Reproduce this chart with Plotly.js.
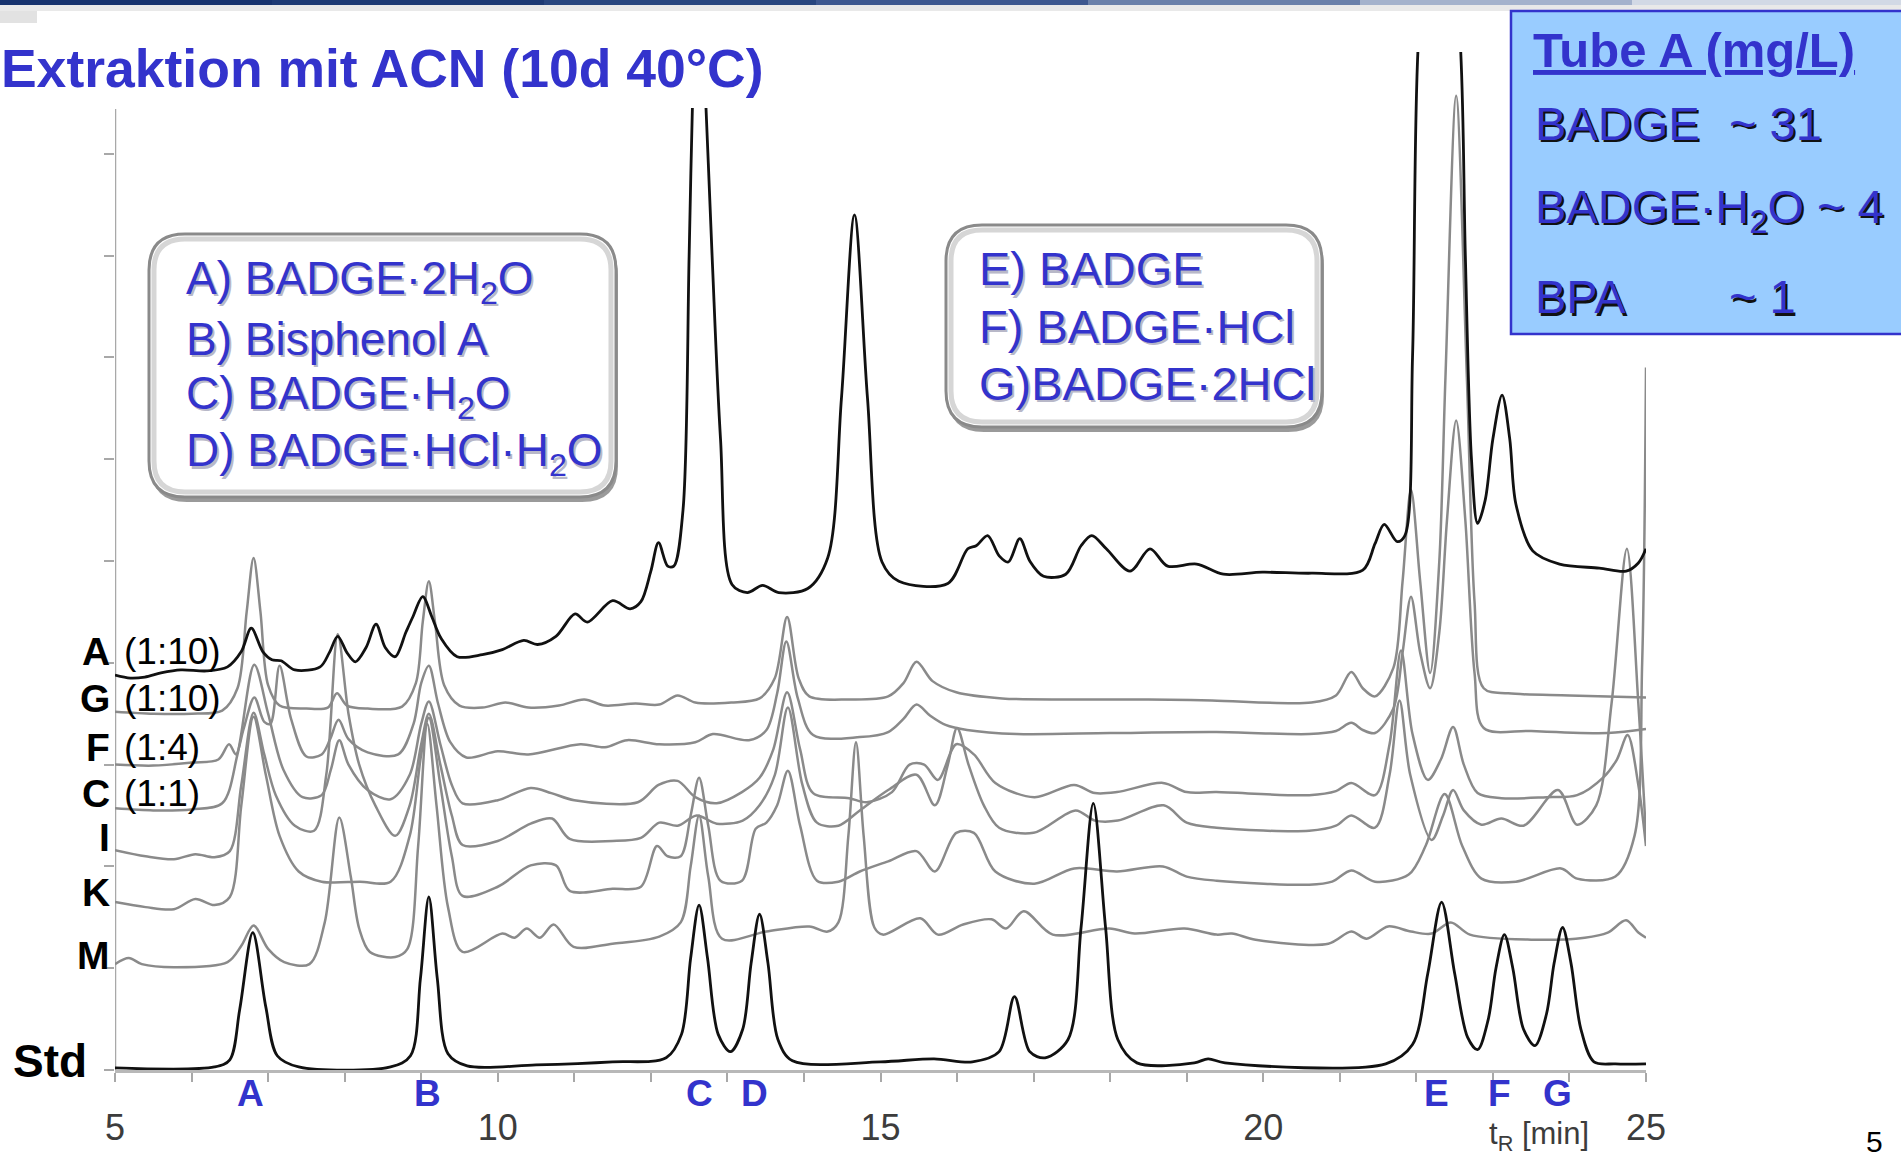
<!DOCTYPE html>
<html><head><meta charset="utf-8">
<script src="https://cdn.plot.ly/plotly-3.0.1.min.js"></script>
<style>html,body{margin:0;padding:0;background:#fff;overflow:hidden}#chart{width:1901px;height:1157px}</style>
</head><body><div id="chart"></div>
<script>
// ---------- data ----------
const xTickVals = [5, 10, 15, 20, 25];
const yTickVals = [0, 1, 2, 3, 4, 5, 6, 7, 8, 9];
const sampleLetters = ['A', 'G', 'F', 'C', 'I', 'K', 'M'];
const sampleRatios = ['(1:10)', '(1:10)', '(1:4)', '(1:1)', '', '', ''];
const peakLetters = ['A', 'B', 'C', 'D', 'E', 'F', 'G'];
const peakTimes = [6.77, 9.08, 12.64, 13.36, 22.26, 23.09, 23.84];
const compoundsLeft = ['A) BADGE·2H<sub>2</sub>O', 'B) Bisphenol A', 'C) BADGE·H<sub>2</sub>O', 'D) BADGE·HCl·H<sub>2</sub>O'];
const compoundsRight = ['E) BADGE', 'F) BADGE·HCl', 'G)BADGE·2HCl'];
const tubeTitle = 'Tube A (mg/L)';
const tubeNames = ['BADGE', 'BADGE·H<sub>2</sub>O ~ 4', 'BPA'];
const tubeValues = ['~ 31', '', '~ 1'];

// chromatograms: [t_R (min), signal (offset units)]
const stdPts = [[5.00,0.02],[6.30,0.03],[6.50,0.10],[6.63,0.60],[6.80,1.35],[6.97,0.62],[7.12,0.14],[7.40,0.03],
[8.60,0.03],[8.86,0.14],[8.99,0.90],[9.10,1.70],[9.21,0.90],[9.35,0.16],[9.60,0.04],
[10.50,0.05],[11.50,0.08],[12.20,0.12],[12.40,0.35],[12.52,1.10],[12.63,1.62],[12.74,1.10],[12.88,0.35],[13.04,0.18],[13.20,0.40],[13.31,1.05],[13.42,1.53],[13.53,1.05],[13.66,0.30],[13.85,0.09],
[15.00,0.08],[15.70,0.11],[16.20,0.08],[16.55,0.18],[16.75,0.72],[16.95,0.18],[17.15,0.12],[17.45,0.30],[17.62,1.40],[17.78,2.62],[17.94,1.40],[18.10,0.30],[18.35,0.07],
[19.10,0.07],[19.28,0.11],[19.50,0.07],[21.60,0.06],[21.95,0.25],[22.15,0.95],[22.33,1.65],[22.50,0.95],[22.67,0.32],[22.80,0.20],[22.94,0.50],[23.04,1.00],[23.15,1.33],[23.26,1.00],[23.40,0.40],[23.55,0.24],[23.70,0.55],[23.80,1.05],[23.91,1.40],[24.02,1.05],[24.15,0.40],[24.32,0.08],[24.60,0.06],[25.00,0.06]];

const aPts = [[5.00,3.88],[5.20,3.85],[5.39,3.86],[5.60,3.90],[5.86,3.93],[6.20,3.92],[6.47,3.96],[6.65,4.11],[6.78,4.34],[6.93,4.11],[7.05,4.03],[7.17,4.02],[7.35,3.93],[7.68,3.96],[7.80,4.10],[7.91,4.26],[8.03,4.10],[8.14,4.01],[8.28,4.15],[8.41,4.38],[8.53,4.15],[8.66,4.06],[8.80,4.30],[8.89,4.45],[9.02,4.65],[9.14,4.45],[9.26,4.24],[9.47,4.06],[9.80,4.08],[10.06,4.13],[10.34,4.22],[10.52,4.18],[10.76,4.26],[11.01,4.48],[11.17,4.40],[11.50,4.61],[11.73,4.53],[11.87,4.60],[12.00,4.90],[12.10,5.18],[12.22,4.95],[12.30,4.95],[12.42,5.50],[12.50,8.00],[12.56,10.0],[12.62,11.0],[12.69,10.0],[12.80,8.00],[12.91,6.20],[13.06,4.77],[13.26,4.69],[13.46,4.76],[13.67,4.69],[14.05,4.73],[14.31,5.03],[14.49,6.60],[14.66,8.40],[14.83,6.60],[15.02,4.99],[15.24,4.80],[15.88,4.78],[16.14,5.12],[16.25,5.15],[16.40,5.25],[16.55,5.05],[16.67,4.99],[16.82,5.22],[16.95,5.00],[17.13,4.85],[17.42,4.87],[17.62,5.15],[17.76,5.25],[17.95,5.12],[18.26,4.90],[18.52,5.12],[18.75,4.95],[19.13,4.97],[19.48,4.87],[19.99,4.89],[20.63,4.88],[21.30,4.91],[21.46,5.17],[21.58,5.36],[21.75,5.19],[21.85,5.25],[21.95,7.00],[22.02,10.0],[22.30,13.0],[22.58,10.0],[22.64,8.00],[22.72,6.00],[22.80,5.37],[22.90,5.60],[23.00,6.20],[23.12,6.63],[23.22,6.20],[23.30,5.56],[23.52,5.10],[23.87,4.97],[24.39,4.93],[24.74,4.90],[24.90,4.98],[25.00,5.12]];

const gPts = [[5.00,3.52],[5.50,3.50],[6.00,3.50],[6.40,3.53],[6.60,3.75],[6.72,4.50],[6.81,5.03],[6.90,4.50],[7.00,3.78],[7.15,3.58],[7.50,3.55],[7.78,3.56],[7.90,3.70],[8.03,3.58],[8.30,3.55],[8.75,3.57],[8.93,3.80],[9.02,4.40],[9.10,4.80],[9.18,4.40],[9.30,3.78],[9.50,3.58],[9.80,3.56],[10.10,3.61],[10.40,3.56],[10.80,3.58],[11.13,3.64],[11.40,3.58],[11.80,3.60],[12.11,3.59],[12.35,3.68],[12.58,3.61],[13.05,3.61],[13.42,3.65],[13.62,3.85],[13.78,4.45],[13.93,3.85],[14.07,3.67],[14.59,3.64],[15.10,3.67],[15.30,3.80],[15.47,4.01],[15.68,3.82],[15.99,3.71],[16.59,3.65],[17.50,3.64],[18.50,3.64],[19.33,3.63],[20.63,3.61],[20.95,3.68],[21.15,3.91],[21.30,3.75],[21.46,3.67],[21.70,3.95],[21.82,4.80],[21.93,5.70],[22.05,4.80],[22.18,3.90],[22.30,5.00],[22.38,6.80],[22.52,9.57],[22.66,6.80],[22.76,4.60],[22.88,3.75],[23.20,3.70],[24.00,3.68],[25.00,3.66]];

const fPts = [[5.00,3.00],[5.50,2.99],[6.00,3.02],[6.35,3.05],[6.49,3.20],[6.58,3.10],[6.68,3.35],[6.82,3.66],[6.95,3.42],[7.03,3.40],[7.15,3.97],[7.30,3.45],[7.50,3.08],[7.70,3.10],[7.81,3.25],[7.92,3.44],[8.05,3.25],[8.30,3.12],[8.70,3.10],[8.90,3.40],[9.00,3.80],[9.10,3.97],[9.22,3.60],[9.38,3.22],[9.59,3.07],[10.00,3.13],[10.40,3.10],[11.08,3.20],[11.40,3.17],[11.69,3.24],[12.11,3.20],[12.58,3.22],[12.81,3.30],[13.28,3.24],[13.51,3.34],[13.65,3.70],[13.77,4.21],[13.92,3.65],[14.12,3.29],[14.73,3.27],[15.10,3.32],[15.30,3.45],[15.47,3.59],[15.65,3.48],[15.85,3.39],[16.13,3.34],[16.78,3.30],[18.00,3.31],[19.39,3.32],[20.60,3.30],[20.95,3.33],[21.15,3.41],[21.30,3.34],[21.46,3.31],[21.70,3.55],[21.82,4.10],[21.93,4.65],[22.05,4.10],[22.18,3.75],[22.30,4.30],[22.40,5.40],[22.52,6.38],[22.64,5.40],[22.76,3.90],[22.88,3.36],[23.50,3.33],[24.50,3.31],[25.00,3.35]];

const cPts = [[5.00,2.57],[5.50,2.55],[6.00,2.56],[6.40,2.62],[6.60,3.10],[6.82,3.98],[7.00,3.50],[7.20,2.95],[7.45,2.68],[7.70,2.70],[7.82,2.95],[7.93,3.24],[8.05,3.00],[8.30,2.75],[8.60,2.66],[8.85,2.90],[9.00,3.40],[9.10,3.62],[9.25,3.20],[9.40,2.80],[9.54,2.62],[10.00,2.65],[10.43,2.77],[10.70,2.72],[11.00,2.65],[11.83,2.63],[12.10,2.80],[12.35,2.84],[12.58,2.68],[12.86,2.62],[13.19,2.73],[13.42,2.87],[13.60,3.15],[13.78,3.71],[13.95,3.15],[14.12,2.72],[14.59,2.67],[14.82,2.63],[15.15,2.73],[15.38,3.00],[15.57,3.00],[15.75,2.85],[15.99,3.20],[16.22,3.10],[16.50,2.82],[17.01,2.68],[17.53,2.80],[17.80,2.72],[18.09,2.73],[18.69,2.82],[19.00,2.73],[19.39,2.73],[20.60,2.70],[20.95,2.74],[21.15,2.82],[21.46,2.70],[21.65,3.20],[21.80,4.12],[21.95,3.30],[22.15,2.85],[22.32,3.05],[22.48,3.37],[22.62,3.00],[22.80,2.72],[23.11,2.67],[23.70,2.68],[24.10,2.70],[24.45,2.88],[24.62,3.05],[24.76,3.29],[24.90,2.80],[25.00,2.20]];

const iPts = [[5.00,2.16],[5.40,2.10],[5.77,2.07],[6.05,2.12],[6.30,2.09],[6.50,2.15],[6.65,2.80],[6.81,3.51],[6.95,3.10],[7.10,2.70],[7.35,2.40],[7.60,2.35],[7.76,2.90],[7.91,4.28],[8.05,3.50],[8.19,3.00],[8.40,2.60],[8.66,2.30],[8.85,2.60],[9.00,3.20],[9.10,3.50],[9.25,3.00],[9.40,2.50],[9.54,2.21],[10.00,2.25],[10.43,2.42],[10.71,2.47],[10.94,2.27],[11.50,2.25],[11.87,2.28],[12.11,2.43],[12.35,2.40],[12.60,2.50],[12.86,2.42],[13.20,2.45],[13.42,2.60],[13.62,2.90],[13.79,3.56],[13.98,2.80],[14.17,2.43],[14.45,2.40],[14.73,2.55],[15.10,2.75],[15.47,2.90],[15.71,2.60],[15.88,3.00],[16.00,3.36],[16.15,3.00],[16.35,2.60],[16.55,2.38],[17.00,2.33],[17.55,2.55],[17.80,2.45],[18.10,2.45],[18.70,2.60],[19.00,2.43],[19.39,2.38],[20.60,2.35],[20.95,2.40],[21.15,2.50],[21.46,2.38],[21.65,2.90],[21.78,3.63],[21.92,2.90],[22.20,2.26],[22.35,2.50],[22.48,2.75],[22.62,2.55],[22.85,2.41],[23.11,2.47],[23.40,2.40],[23.85,2.75],[24.10,2.41],[24.35,2.60],[24.55,3.60],[24.75,5.12],[24.90,3.60],[25.00,2.30]];

const kPts = [[5.00,1.65],[5.40,1.60],[5.77,1.58],[6.05,1.68],[6.30,1.62],[6.50,1.70],[6.65,2.60],[6.81,3.47],[6.97,2.90],[7.15,2.30],[7.40,1.95],[7.70,1.85],[8.20,1.85],[8.60,1.85],[8.85,2.30],[9.00,3.10],[9.10,3.46],[9.25,2.80],[9.40,2.10],[9.54,1.71],[10.00,1.80],[10.43,2.01],[10.76,2.01],[10.94,1.76],[11.50,1.78],[11.87,1.80],[12.08,2.20],[12.22,2.10],[12.39,2.10],[12.52,2.50],[12.63,2.87],[12.75,2.40],[12.91,1.86],[13.19,1.86],[13.37,2.37],[13.51,2.43],[13.65,2.60],[13.79,2.94],[13.95,2.40],[14.17,1.86],[14.45,1.85],[14.73,1.95],[15.10,2.05],[15.47,2.15],[15.71,1.95],[15.99,2.33],[16.22,2.33],[16.50,1.95],[17.01,1.83],[17.53,1.98],[18.09,1.95],[18.69,2.00],[19.00,1.90],[19.39,1.86],[20.60,1.82],[20.90,1.85],[21.15,1.96],[21.46,1.85],[21.90,1.92],[22.12,2.20],[22.37,2.71],[22.60,2.20],[22.85,1.88],[23.30,1.85],[23.89,1.98],[24.10,1.88],[24.60,1.90],[24.85,2.30],[24.95,4.00],[25.00,6.90]];

const mPts = [[5.00,1.04],[5.18,1.10],[5.35,1.04],[5.77,1.01],[6.47,1.06],[6.65,1.22],[6.81,1.42],[7.00,1.19],[7.21,1.06],[7.54,1.04],[7.74,1.45],[7.93,2.48],[8.08,1.90],[8.19,1.39],[8.33,1.16],[8.66,1.11],[8.82,1.19],[8.96,2.20],[9.08,3.40],[9.20,2.60],[9.35,1.60],[9.54,1.16],[10.06,1.34],[10.22,1.30],[10.38,1.39],[10.55,1.30],[10.73,1.43],[10.99,1.21],[11.50,1.24],[12.11,1.31],[12.39,1.45],[12.52,2.00],[12.63,2.50],[12.75,1.90],[12.93,1.29],[13.51,1.36],[14.07,1.41],[14.31,1.36],[14.45,1.45],[14.58,2.30],[14.68,3.22],[14.78,2.30],[14.92,1.40],[15.03,1.33],[15.52,1.49],[15.75,1.33],[16.08,1.43],[16.45,1.48],[16.64,1.39],[16.87,1.56],[17.25,1.33],[17.99,1.39],[18.32,1.34],[18.97,1.39],[19.39,1.33],[19.59,1.34],[19.90,1.28],[20.85,1.24],[21.15,1.36],[21.35,1.29],[21.63,1.41],[21.93,1.36],[22.20,1.34],[22.45,1.45],[22.70,1.33],[23.50,1.28],[24.20,1.30],[24.50,1.35],[24.74,1.47],[24.90,1.35],[25.00,1.30]];

// ---------- layout helpers ----------
const W = 1901, H = 1157, ML = 115, MR = 255, MT = 52, MB = 87;
const PW = W - ML - MR, PH = H - MT - MB;
const px = X => (X - ML) / PW;
const py = Y => (H - MB - Y) / PH;

const BLUE = '#3333cc';
const SANS = "'Liberation Sans', Arial, sans-serif";

function rr(x0, y0, x1, y1, r) {
  const P = (X, Y) => px(X).toFixed(5) + ',' + py(Y).toFixed(5);
  return 'M' + P(x0 + r, y0) + ' L' + P(x1 - r, y0) + ' Q' + P(x1, y0) + ' ' + P(x1, y0 + r) +
    ' L' + P(x1, y1 - r) + ' Q' + P(x1, y1) + ' ' + P(x1 - r, y1) +
    ' L' + P(x0 + r, y1) + ' Q' + P(x0, y1) + ' ' + P(x0, y1 - r) +
    ' L' + P(x0, y0 + r) + ' Q' + P(x0, y0) + ' ' + P(x0 + r, y0) + ' Z';
}
function rect(X0, Y0, X1, Y1, fill, line) {
  return {type: 'rect', xref: 'paper', yref: 'paper', x0: px(X0), x1: px(X1), y0: py(Y1), y1: py(Y0),
    fillcolor: fill, line: line || {width: 0}, layer: 'above'};
}
function ann(text, X, Y, opts) {
  return Object.assign({text: text, xref: 'paper', yref: 'paper', x: px(X), y: py(Y), showarrow: false,
    xanchor: 'left', yanchor: 'middle'}, opts || {});
}

// ---------- traces ----------
function tr(pts, color, width) {
  return {x: pts.map(p => p[0]), y: pts.map(p => p[1]), type: 'scatter', mode: 'lines',
    line: {color: color, width: width, shape: 'spline', smoothing: 0.9}, hoverinfo: 'skip', showlegend: false};
}
const GRAY = '#8a8a8a';
const data = [
  tr(mPts, GRAY, 2.5), tr(kPts, GRAY, 2.5), tr(iPts, GRAY, 2.5), tr(cPts, GRAY, 2.5),
  tr(fPts, GRAY, 2.5), tr(gPts, GRAY, 2.5),
  tr(aPts, '#111111', 2.8), tr(stdPts, '#111111', 2.8)
];

// ---------- shapes ----------
const shapes = [];
shapes.push({type: 'line', xref: 'x', yref: 'y', x0: 5, x1: 5, y0: 0, y1: 9.44, line: {color: '#a8a8a8', width: 2.5}, layer: 'below'});
shapes.push(rect(-5, -5, 814, 108, '#ffffff'));
const barCols = ['#17336e', '#1d3a74', '#28467f', '#3d5890', '#6a80aa', '#a4b2cc', '#d2d9e5'];
barCols.forEach((c, i) => shapes.push(rect(i * 272, 0, (i + 1) * 272 + 1, 5, c)));
shapes.push(rect(0, 5, W, 11, '#e9e9e9'));
shapes.push(rect(0, 11, 37, 23, '#e2e2e2'));
function box(x0, y0, x1, y1) {
  shapes.push({type: 'path', xref: 'paper', yref: 'paper', path: rr(x0 + 2, y0 + 5, x1 + 2, y1 + 5, 36), fillcolor: '#9a9a9a', line: {width: 0}, layer: 'above'});
  shapes.push({type: 'path', xref: 'paper', yref: 'paper', path: rr(x0, y0, x1, y1, 36), fillcolor: '#ffffff', line: {color: '#8a8a8a', width: 3}, layer: 'above'});
  shapes.push({type: 'path', xref: 'paper', yref: 'paper', path: rr(x0 + 5, y0 + 5, x1 - 5, y1 - 5, 31), fillcolor: 'rgba(0,0,0,0)', line: {color: '#d6d6d6', width: 5}, layer: 'above'});
}
box(149, 234, 616, 497);
box(946, 225, 1322, 427);
shapes.push(rect(1511, 11, 1910, 334, '#99ccff', {color: BLUE, width: 2.5}));

// ---------- annotations ----------
const annotations = [];
const sampleY = [651, 698, 747, 793, 837, 892, 955];
sampleLetters.forEach((s, i) => {
  annotations.push(ann('<b>' + s + '</b>', 112, sampleY[i], {xanchor: 'right', font: {family: SANS, size: 39, color: '#000'}}));
  if (sampleRatios[i]) annotations.push(ann(sampleRatios[i], 122, sampleY[i], {font: {family: SANS, size: 37, color: '#000'}}));
});
annotations.push(ann('<b>Std</b>', 11, 1061, {font: {family: SANS, size: 46, color: '#000'}}));
peakLetters.forEach((p, i) => {
  annotations.push({text: '<b>' + p + '</b>', xref: 'x', yref: 'paper', x: peakTimes[i], y: py(1093), showarrow: false,
    xanchor: 'center', yanchor: 'middle', font: {family: SANS, size: 37, color: BLUE}});
});
annotations.push(ann('t<sub>R</sub> [min]', 1487, 1136, {font: {family: SANS, size: 31, color: '#3c3c3c'}}));
annotations.push(ann('5', 1864, 1141, {font: {family: SANS, size: 30, color: '#000'}}));
const leftY = [281, 339, 397, 454];
compoundsLeft.forEach((t, i) => {
  annotations.push(ann(t, 186, leftY[i] + 2, {font: {family: SANS, size: 46, color: '#b8b8c8'}}));
  annotations.push(ann(t, 184, leftY[i], {font: {family: SANS, size: 46, color: BLUE}}));
});
const rightY = [269, 326, 383];
compoundsRight.forEach((t, i) => {
  annotations.push(ann(t, 979, rightY[i] + 2, {font: {family: SANS, size: 47, color: '#b8b8c8'}}));
  annotations.push(ann(t, 977, rightY[i], {font: {family: SANS, size: 47, color: BLUE}}));
});
annotations.push(ann('<b><u>' + tubeTitle + '</u></b>', 1531, 50, {font: {family: SANS, size: 49, color: BLUE}}));
const tubeY = [123, 210, 297];
tubeNames.forEach((t, i) => {
  annotations.push(ann(t, 1535, tubeY[i] + 2, {font: {family: SANS, size: 47, color: '#111'}}));
  annotations.push(ann(t, 1533, tubeY[i], {font: {family: SANS, size: 47, color: BLUE}}));
  if (tubeValues[i]) {
    annotations.push(ann(tubeValues[i], 1729, tubeY[i] + 2, {font: {family: SANS, size: 47, color: '#111'}}));
    annotations.push(ann(tubeValues[i], 1727, tubeY[i], {font: {family: SANS, size: 47, color: BLUE}}));
  }
});

const layout = {
  width: W, height: H,
  margin: {l: ML, r: MR, t: MT, b: MB, pad: 0},
  paper_bgcolor: '#ffffff', plot_bgcolor: '#ffffff',
  showlegend: false,
  title: {text: '<b>Extraktion mit ACN (10d 40°C)</b>', xref: 'container', yref: 'container', x: 0.0005, xanchor: 'left',
    y: 1 - 68 / H, yanchor: 'middle', pad: {l: 0, r: 0, t: 0, b: 0}, font: {family: SANS, size: 53.5, color: BLUE}},
  xaxis: {range: [5, 25], showgrid: false, zeroline: false, showline: true, linecolor: '#b8b8b8', linewidth: 3,
    ticks: 'outside', ticklen: 9, tickwidth: 2, tickcolor: '#a8a8a8', tickmode: 'array', tickvals: xTickVals,
    ticklabelstandoff: 15, tickfont: {family: SANS, size: 36, color: '#3c3c3c'},
    minor: {dtick: 1, tick0: 5, ticks: 'outside', ticklen: 9, tickwidth: 2, tickcolor: '#a8a8a8', showgrid: false},
    fixedrange: true},
  yaxis: {range: [0, 10], showgrid: false, zeroline: false, showline: false, ticks: 'outside', ticklen: 10, tickwidth: 2,
    tickcolor: '#a8a8a8', tickmode: 'array', tickvals: yTickVals, showticklabels: false, fixedrange: true},
  shapes: shapes,
  annotations: annotations,
  hovermode: false
};
Plotly.newPlot('chart', data, layout, {staticPlot: true, displayModeBar: false});
</script></body></html>
